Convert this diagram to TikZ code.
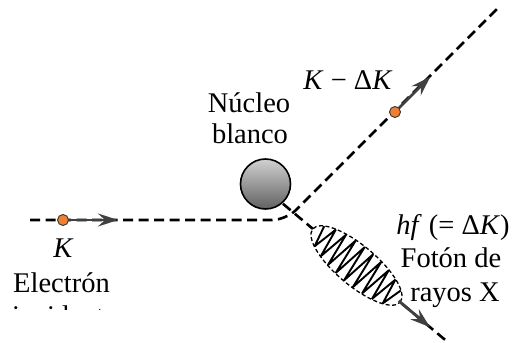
\documentclass[tikz,border=0pt]{standalone}
\usepackage{fontspec}
\setmainfont{Liberation Serif}
\usetikzlibrary{calc,arrows.meta}
\begin{document}
\begin{tikzpicture}[x=1pt,y=1pt,
  every node/.style={font=\fontsize{28.5}{32}\selectfont, inner sep=0pt},
  track/.style={dashed, dash pattern=on 10pt off 5.5pt, line width=2.6pt},
  motion/.style={line width=2.8pt, draw=black!75,
    -{Stealth[length=20pt,width=13pt,inset=7pt]}},
  particle/.style={circle, draw=black!80, line width=0.9pt,
    fill={rgb,255:red,240;green,128;blue,48}, minimum size=11pt, inner sep=0pt}]
\useasboundingbox (0,0) rectangle (512,343);

% key points
\coordinate (A) at (30,123);
\coordinate (B) at (286,123);
\coordinate (E) at (500,337);
\coordinate (Ce) at (356.5,77.5);
\coordinate (P0) at ($(Ce)+(140:96)$);
\coordinate (P1) at ($(Ce)+(-40:118)$);

% electron track, bent at the nucleus
\draw[track, rounded corners=14pt] (A) -- (B) -- (E);
% photon track
\draw[track] (P0) -- (P1);

% target nucleus
\node (nuc) [circle, minimum size=50pt, draw, line width=1.6pt,
  top color=black!18, bottom color=black!62] at (265.5,159) {};

% photon wave packet
\begin{scope}[shift={(Ce)}, rotate=-40]
  \fill[white] (0,0) ellipse[x radius=57pt, y radius=20pt];
  \draw[dashed, dash pattern=on 4pt off 2.5pt, line width=1.3pt]
    (0,0) ellipse[x radius=57pt, y radius=20pt];
  \draw[line width=1.9pt, line join=miter, miter limit=4]
    plot[domain=0:18, samples=19]
    ({-50+5.5556*\x}, {19.5*sqrt(1-((-50+5.5556*\x)/57)^2)*cos(180*\x)});
\end{scope}
\coordinate (Q0) at ($(Ce)+(-40:55)$);
\coordinate (Q1) at ($(Ce)+(-40:96)$);
\draw[motion] (Q0) -- (Q1);

% incident electron
\coordinate (D1) at (63,123);
\coordinate (T1) at (118,123);
\draw[motion] (D1) -- (T1);
\node (e1) [particle] at (D1) {};

% scattered electron
\coordinate (D2) at (395,231);
\coordinate (T2) at ($(D2)+(45:50)$);
\draw[motion] (D2) -- (T2);
\node (e2) [particle] at (D2) {};

% labels
\node (lK) [anchor=base] at (63.5,85) {\textit{K}};
\node (lel) [anchor=base west] at (13,50) {Electrón};
\begin{scope}
  \clip (0,33) rectangle (200,343);
  \node (linc) [anchor=base west] at (12,17) {incidente};
\end{scope}
\node (lnu) [anchor=base] at (249,230) {Núcleo};
\node (lbl) [anchor=base] at (250,199) {blanco};
\node (lKd) [anchor=base] at (348,253) {\textit{K} − Δ\textit{K}};
\node (lhf) [anchor=base] at (453,108) {\textit{hf} (= Δ\textit{K})};
\node (lfo) [anchor=base] at (451,75) {Fotón de};
\node (lrx) [anchor=base] at (455,41) {rayos X};
\end{tikzpicture}
\end{document}
